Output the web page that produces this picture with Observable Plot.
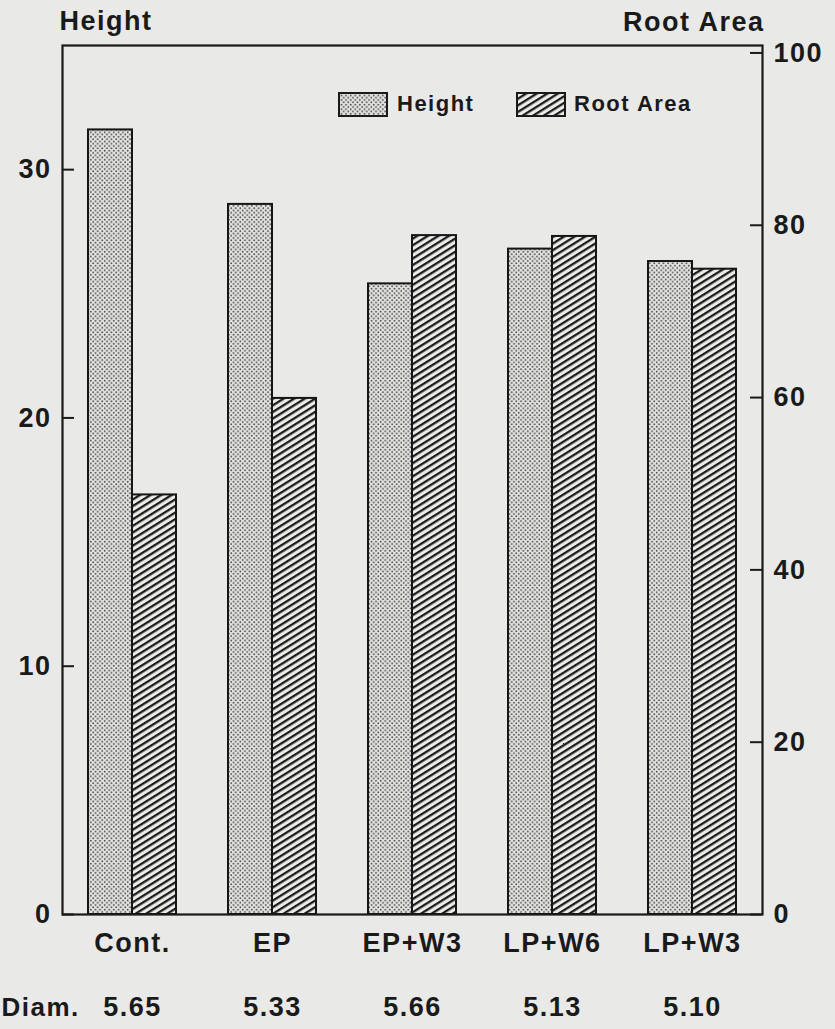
<!DOCTYPE html>
<html>
<head>
<meta charset="utf-8">
<script src="https://cdn.jsdelivr.net/npm/d3@7"></script>
<script src="https://cdn.jsdelivr.net/npm/@observablehq/plot@0.6"></script>
<style>
  html, body { margin: 0; padding: 0; background: #e9e9e7; }
  #wrap { position: relative; width: 835px; height: 1029px; overflow: hidden; }
  #wrap svg text { letter-spacing: 1.5px; }
  .legend { position: absolute; display: flex; align-items: center;
            font: bold 22px "Liberation Sans", Arial, sans-serif; letter-spacing: 1.5px; color: #1a1a1a; }
  .legend svg { display: block; }
</style>
</head>
<body>
<svg width="0" height="0" style="position:absolute">
  <defs>
    <pattern id="dots" width="4.6" height="4.6" patternUnits="userSpaceOnUse">
      <rect width="4.6" height="4.6" fill="#e4e4e2"/>
      <circle cx="1.15" cy="1.15" r="0.9" fill="#444"/>
      <circle cx="3.45" cy="3.45" r="0.9" fill="#444"/>
    </pattern>
    <pattern id="hatch" width="10" height="5.6" patternUnits="userSpaceOnUse" patternTransform="rotate(-32)">
      <rect width="10" height="5.6" fill="#ececea"/>
      <rect y="0" width="10" height="2.3" fill="#1c1c1c"/>
    </pattern>
  </defs>
</svg>
<div id="wrap">
  <div class="legend" style="left:338px; top:91px;">
    <svg width="50" height="25"><rect x="1" y="1" width="48" height="23" fill="url(#dots)" stroke="#1a1a1a" stroke-width="2"/></svg>
    <span style="margin-left:9px">Height</span>
  </div>
  <div class="legend" style="left:516px; top:91px;">
    <svg width="50" height="25"><rect x="1" y="1" width="48" height="23" fill="url(#hatch)" stroke="#1a1a1a" stroke-width="2"/></svg>
    <span style="margin-left:8px">Root Area</span>
  </div>
</div>
<script>
// ---- data ----
const categories = ["Cont.", "EP", "EP+W3", "LP+W6", "LP+W3"];
const heightValues = [31.6, 28.6, 25.4, 26.8, 26.3];
const rootAreaValues = [48.7, 59.9, 78.8, 78.7, 74.9];
const diamValues = ["5.65", "5.33", "5.66", "5.13", "5.10"];
const leftTicks = [0, 10, 20, 30];
const rightTicks = [0, 20, 40, 60, 80, 100];
const diamLabel = "Diam.";
const leftTitle = "Height";
const rightTitle = "Root Area";

// right axis (Root Area) expressed on the left (Height) scale
const k = 0.347;

const rows = categories.map((c, i) => ({
  cat: c, height: heightValues[i], root: rootAreaValues[i], diam: diamValues[i]
}));

const font = "'Liberation Sans', Arial, Helvetica, sans-serif";

const chart = Plot.plot({
  width: 835,
  height: 1029,
  marginLeft: 62,
  marginRight: 73,
  marginTop: 45,
  marginBottom: 115,
  style: { background: "transparent", fontFamily: font, fontWeight: "bold", fontSize: "27px", color: "#1a1a1a", overflow: "visible" },
  x: { domain: categories, padding: 0, axis: null },
  y: { domain: [0, 35], axis: null },
  marks: [
    Plot.barY(rows, { x: "cat", y: "height", fill: "url(#dots)", stroke: "#161616", strokeWidth: 2, insetLeft: 26, insetRight: 70 }),
    Plot.barY(rows, { x: "cat", y: d => d.root * k, fill: "url(#hatch)", stroke: "#161616", strokeWidth: 2, insetLeft: 70, insetRight: 26 }),
    Plot.frame({ stroke: "#1a1a1a", strokeWidth: 2.2 }),
    Plot.tickY(leftTicks, { y: d => d, insetRight: 688, stroke: "#1a1a1a", strokeWidth: 2 }),
    Plot.tickY(rightTicks.map(v => v * k), { y: d => d, insetLeft: 688, stroke: "#1a1a1a", strokeWidth: 2 }),
    Plot.axisY(leftTicks, { anchor: "left", tickSize: 0, tickPadding: 11, fontSize: 27, label: null }),
    Plot.axisY(rightTicks.map(v => v * k), { anchor: "right", tickSize: 0, tickPadding: 11, fontSize: 27, label: null, tickFormat: d => String(Math.round(d / k)) }),
    Plot.axisX({ anchor: "bottom", tickSize: 0, tickPadding: 18, fontSize: 27, label: null }),
    Plot.text(rows, { x: "cat", text: "diam", frameAnchor: "bottom", lineAnchor: "middle", dy: 93, fontSize: 27 }),
    Plot.text([diamLabel], { frameAnchor: "bottom-left", lineAnchor: "middle", textAnchor: "start", dx: -61, dy: 93, fontSize: 26, letterSpacing: 0 }),
    Plot.text([leftTitle], { frameAnchor: "top-left", lineAnchor: "middle", textAnchor: "start", dx: -3, dy: -24, fontSize: 27 }),
    Plot.text([rightTitle], { frameAnchor: "top-right", lineAnchor: "middle", textAnchor: "end", dx: 2, dy: -23, fontSize: 27 })
  ]
});

document.getElementById("wrap").prepend(chart);
</script>
</body>
</html>
